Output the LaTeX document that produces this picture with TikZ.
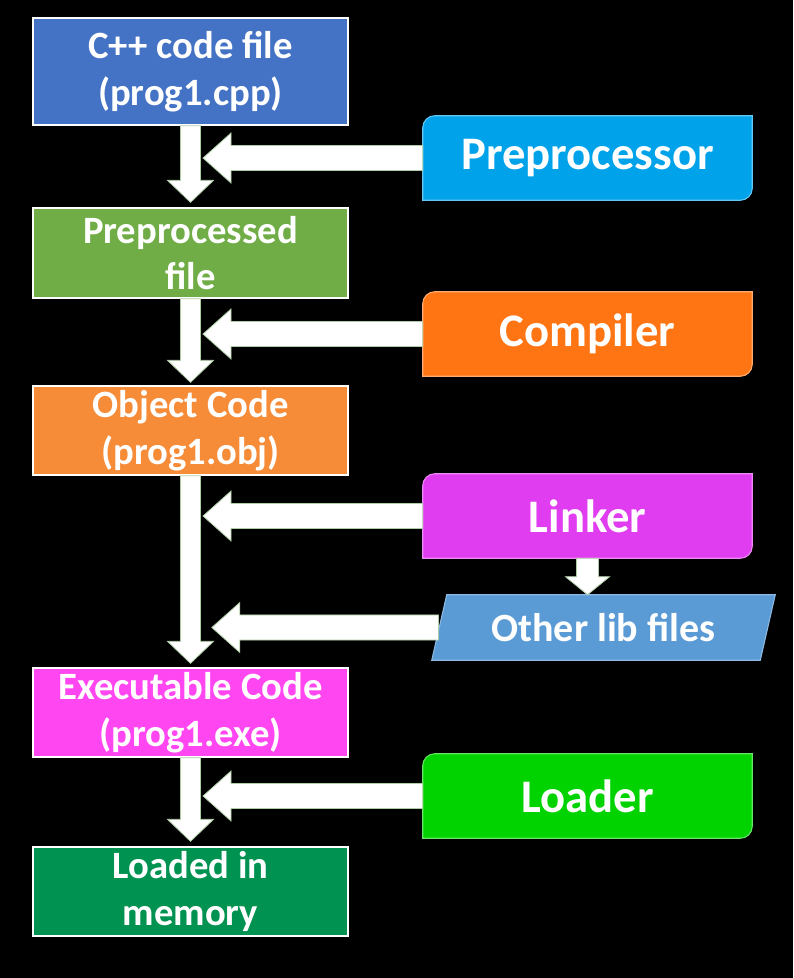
\documentclass[tikz,border=0pt]{standalone}
\usepackage{fontspec}
\setmainfont{Carlito}
\usetikzlibrary{calc}
\pgfdeclarelayer{bg}
\pgfsetlayers{bg,main}

\definecolor{cppblue}{RGB}{68,114,196}
\definecolor{ppgreen}{RGB}{112,173,71}
\definecolor{objorange}{RGB}{246,139,56}
\definecolor{exemagenta}{RGB}{255,70,240}
\definecolor{memgreen}{RGB}{0,146,80}
\definecolor{precyan}{RGB}{0,162,234}
\definecolor{comporange}{RGB}{255,117,20}
\definecolor{linkmagenta}{RGB}{224,60,240}
\definecolor{libblue}{RGB}{91,155,213}
\definecolor{loadgreen}{RGB}{0,211,0}
\definecolor{arrowedge}{RGB}{175,205,165}

\tikzset{
  filebox/.style={rectangle, inner sep=0pt, minimum width=236.25pt, minimum height=67.5pt,
    draw=white, line width=1pt, text=white, align=center,
    font=\bfseries\fontsize{29}{35}\selectfont},
  toolbox/.style={rectangle, inner sep=0pt, minimum width=246.75pt, minimum height=63pt,
    text=white, font=\bfseries\fontsize{35}{42}\selectfont},
  libbox/.style={rectangle, inner sep=0pt, minimum width=246pt, minimum height=48.75pt,
    text=white, font=\bfseries\fontsize{30}{36}\selectfont},
  fatarrow/.style={fill=white, draw=arrowedge, line width=0.6pt, line join=miter},
}

% tool box with rounded top-left and bottom-right corners
\newcommand\toolshape[2]{%
  \begin{pgfonlayer}{bg}
  \path let \p1=(#1.north west), \p2=(#1.south east) in
    [fill=#2, draw=#2!60!white, line width=0.8pt]
    (\x1,\y2) -- (\x1,\y1-9pt) arc[start angle=180, end angle=90, radius=9pt]
    -- (\x2,\y1) -- (\x2,\y2+9pt) arc[start angle=0, end angle=-90, radius=9pt] -- cycle;
  \end{pgfonlayer}}

% fat downward arrow: from, tip, shaft half width, head half width, head length
\newcommand\fatdown[5]{%
  \path let \p1=(#1), \p2=(#2) in [fatarrow]
    (\x1-#3,\y1) -- (\x1-#3,\y2+#5) -- (\x1-#4,\y2+#5) -- (\x1,\y2)
    -- (\x1+#4,\y2+#5) -- (\x1+#3,\y2+#5) -- (\x1+#3,\y1) -- cycle;}

% fat leftward arrow: from, tip (x only used)
\newcommand\fatleft[2]{%
  \path let \p1=(#1), \p2=(#2) in [fatarrow]
    (\x1,\y1+9.4pt) -- (\x2+21pt,\y1+9.4pt) -- (\x2+21pt,\y1+18.75pt) -- (\x2,\y1)
    -- (\x2+21pt,\y1-18.75pt) -- (\x2+21pt,\y1-9.4pt) -- (\x1,\y1-9.4pt) -- cycle;}

\begin{document}
\begin{tikzpicture}[x=0.75pt, y=-0.75pt]
\useasboundingbox (0,0) rectangle (793,978);
\begin{pgfonlayer}{bg}
  \fill[black] (0,0) rectangle (793,978);
\end{pgfonlayer}

% left column: files
\node[filebox, fill=cppblue, minimum height=80.25pt] (cpp) at (190.5,71.5) {C++ code file\\(prog1.cpp)};
\node[filebox, fill=ppgreen] (pp) at (190.5,253) {Preprocessed\\file};
\node[filebox, fill=objorange, minimum height=66.75pt] (obj) at (190.5,430.5) {Object Code\\(prog1.obj)};
\node[filebox, fill=exemagenta, minimum height=66.75pt] (exe) at (190.5,712.5) {Executable Code\\(prog1.exe)};
\node[filebox, fill=memgreen, minimum height=66.75pt] (mem) at (190.5,891.5) {Loaded in\\memory};

% right column: tools
\node[toolbox] (pre) at (587.5,158) {Preprocessor};
\node[toolbox] (comp) at (587.5,334) {Compiler};
\node[toolbox] (link) at (587.5,516) {Linker};
\node[libbox] (lib) at (603.5,627.5) {Other lib files};
\node[toolbox] (load) at (587.5,796) {Loader};

\toolshape{pre}{precyan}
\toolshape{comp}{comporange}
\toolshape{link}{linkmagenta}
\toolshape{load}{loadgreen}
\begin{pgfonlayer}{bg}
  \path[fill=libblue, draw=libblue!70!white, line width=0.8pt]
    ([xshift=5.625pt]lib.north west) -- ([xshift=5.625pt]lib.north east)
    -- ([xshift=-5.625pt]lib.south east) -- ([xshift=-5.625pt]lib.south west) -- cycle;
\end{pgfonlayer}

% vertical arrows
\fatdown{cpp.south}{[yshift=3.75pt]pp.north}{7.5pt}{17.25pt}{16.5pt}
\fatdown{pp.south}{[yshift=2.25pt]obj.north}{7.5pt}{17.25pt}{16.5pt}
\fatdown{obj.south}{[yshift=3pt]exe.north}{7.5pt}{17.25pt}{16.5pt}
\fatdown{exe.south}{[yshift=3.75pt]mem.north}{7.5pt}{17.25pt}{16.5pt}
\fatdown{link.south}{lib.north}{8.25pt}{16.5pt}{13.5pt}

% horizontal arrows
\fatleft{pre.west}{[xshift=9.4pt]cpp.south}
\fatleft{comp.west}{[xshift=9.4pt]pp.south}
\fatleft{link.west}{[xshift=9.4pt]obj.south}
\fatleft{[xshift=-0.5pt]lib.west}{[xshift=16pt]obj.south}
\fatleft{load.west}{[xshift=9.4pt]exe.south}
\end{tikzpicture}
\end{document}
